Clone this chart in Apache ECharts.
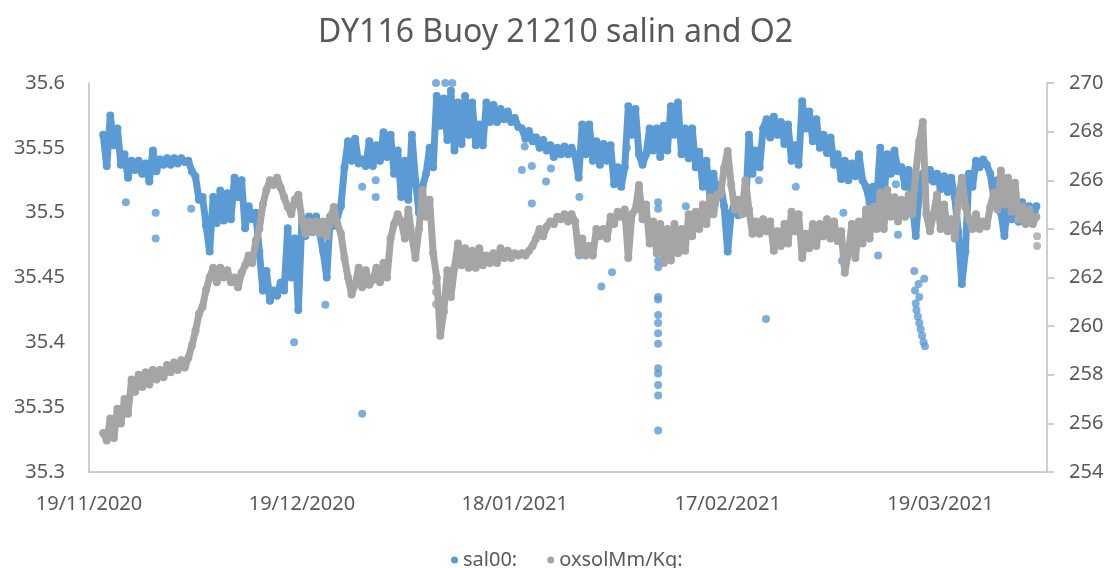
<!DOCTYPE html>
<html>
<head>
<meta charset="utf-8">
<script src="https://cdn.jsdelivr.net/npm/echarts@6/dist/echarts.min.js"></script>
<style>
html,body{margin:0;padding:0;background:#fff;}
#chart{width:1111px;height:568px;}
</style>
</head>
<body>
<div id="chart"></div>
<script>
// ---- data ----
const titleText = 'DY116 Buoy 21210 salin and O2';
const salName = 'sal00:';
const oxName = 'oxsolMm/Kg:';
const axisStartDate = [2020, 10, 19];      // 19/11/2020 = day 0
const firstSampleDay = 2;                  // first sample, days after 19/11/2020
const sampleStepDays = 0.5;                // sampling step of the arrays below
const xTickDays = [0, 30, 60, 90, 120];

const salValues = [
35.560,35.536,35.575,35.552,35.565,35.537,35.545,35.527,35.540,35.533,
35.540,35.530,35.538,35.524,35.548,35.532,35.541,35.537,35.542,35.537,
35.542,35.538,35.542,35.539,35.540,35.532,35.528,35.510,35.512,35.490,
35.470,35.512,35.492,35.517,35.494,35.515,35.495,35.527,35.512,35.525,
35.488,35.505,35.495,35.500,35.470,35.440,35.455,35.432,35.440,35.436,
35.446,35.440,35.488,35.450,35.480,35.425,35.495,35.482,35.497,35.485,
35.497,35.484,35.470,35.450,35.497,35.490,35.497,35.505,35.535,35.555,
35.540,35.557,35.538,35.541,35.536,35.555,35.536,35.552,35.540,35.562,
35.543,35.560,35.530,35.548,35.512,35.540,35.510,35.560,35.525,35.500,
35.520,35.530,35.550,35.535,35.590,35.567,35.588,35.556,35.594,35.548,
35.585,35.553,35.590,35.560,35.585,35.552,35.568,35.552,35.585,35.570,
35.583,35.570,35.580,35.572,35.578,35.570,35.573,35.566,35.565,35.557,
35.563,35.555,35.558,35.550,35.556,35.548,35.552,35.543,35.550,35.545,
35.551,35.545,35.550,35.544,35.527,35.568,35.545,35.568,35.540,35.555,
35.537,35.553,35.540,35.552,35.522,35.535,35.520,35.535,35.582,35.560,
35.580,35.545,35.537,35.545,35.565,35.548,35.565,35.543,35.567,35.548,
35.582,35.560,35.585,35.545,35.565,35.542,35.565,35.535,35.547,35.520,
35.540,35.513,35.530,35.512,35.522,35.505,35.470,35.500,35.508,35.498,
35.510,35.500,35.560,35.530,35.548,35.535,35.565,35.572,35.558,35.574,
35.560,35.570,35.553,35.568,35.540,35.552,35.537,35.586,35.565,35.578,
35.555,35.572,35.550,35.560,35.546,35.558,35.537,35.545,35.526,35.540,
35.525,35.538,35.528,35.545,35.525,35.520,35.508,35.520,35.510,35.550,
35.510,35.545,35.530,35.548,35.532,35.535,35.520,35.533,35.508,35.482,
35.515,35.530,35.525,35.533,35.524,35.530,35.518,35.528,35.516,35.527,
35.512,35.485,35.445,35.470,35.530,35.520,35.540,35.535,35.541,35.537,
35.530,35.512,35.525,35.500,35.482,35.510,35.495,35.515,35.493,35.508,
35.497,35.505,35.494,35.505
];

const oxValues = [
255.6,255.3,256.2,255.4,256.6,256.0,257.0,256.4,257.8,257.3,
258.0,257.5,258.1,257.6,258.2,257.8,258.2,257.9,258.4,258.1,
258.5,258.2,258.6,258.3,258.7,259.2,259.8,260.5,260.8,261.5,
262.0,262.4,261.8,262.4,262.0,262.3,261.8,262.0,261.6,262.2,
262.5,262.9,262.6,263.5,264.0,265.0,265.6,266.0,265.8,266.1,
265.7,265.3,264.9,264.6,265.2,265.4,264.4,263.8,264.3,263.9,
264.3,263.8,264.3,263.7,264.4,264.9,264.2,263.8,262.8,262.0,
261.3,261.7,262.4,261.6,262.3,261.7,261.9,262.4,261.8,262.6,
262.0,263.6,264.2,264.6,264.3,263.6,264.8,263.7,262.8,264.0,
265.6,264.5,265.2,263.0,262.0,259.6,260.6,262.3,261.2,262.4,
263.4,262.5,263.2,262.4,263.1,262.4,263.2,262.5,262.9,262.6,
263.0,262.6,263.2,262.8,263.1,262.8,263.0,262.9,263.0,262.9,
263.1,263.3,263.6,264.0,263.7,264.1,264.3,264.2,264.5,264.4,
264.6,264.3,264.6,264.3,263.0,263.6,262.9,263.3,262.9,264.0,
263.7,264.0,263.6,264.5,264.2,264.7,264.5,264.8,262.8,264.6,
264.8,265.8,264.4,265.0,263.4,264.3,263.0,264.2,262.6,264.0,
262.7,264.2,263.0,264.0,263.1,264.6,263.7,264.7,264.0,265.0,
264.2,265.3,264.6,265.4,265.4,266.5,267.2,265.8,264.8,265.2,
264.6,266.0,264.8,263.8,264.3,263.8,264.4,263.9,264.3,263.1,
263.9,263.3,264.2,263.4,264.7,263.9,264.6,262.8,263.8,263.2,
264.2,263.3,264.2,263.7,264.4,263.6,264.3,263.5,263.9,262.2,
263.0,264.2,262.8,264.3,263.4,264.8,263.6,264.9,264.0,265.5,
264.0,265.6,264.5,265.3,264.3,265.2,264.5,265.4,264.6,266.3,
267.6,268.4,264.6,263.9,264.6,265.4,264.0,265.0,263.9,264.4,
263.6,265.2,266.1,264.9,264.4,264.0,264.6,264.0,264.3,264.1,
264.9,265.5,264.8,266.4,265.0,266.1,264.7,265.9,264.4,264.9,
264.2,264.8,264.2,264.5
];

// isolated points: [days after 19/11/2020, value]
const salOutliers = [
[5.2,35.508],[9.4,35.500],[9.4,35.480],[14.4,35.503],[28.9,35.400],[33.3,35.429],
[38.5,35.520],[40.4,35.525],[40.4,35.512],[38.5,35.345],[48.9,35.600],[50.2,35.600],
[51.2,35.600],[61.4,35.551],[61.0,35.533],[62.4,35.536],[62.4,35.507],[64.4,35.524],
[65.1,35.534],[69.1,35.512],[69.1,35.467],[72.2,35.443],[73.7,35.454],[75.8,35.550],
[80.2,35.508],[80.2,35.503],[80.2,35.463],[80.2,35.458],[80.2,35.435],[80.2,35.433],
[80.2,35.421],[80.2,35.415],[80.2,35.407],[80.2,35.399],[80.2,35.380],[80.2,35.376],
[80.2,35.367],[80.2,35.359],[80.2,35.332],[84.1,35.505],[94.4,35.525],[95.4,35.418],
[99.6,35.520],[106.1,35.463],[106.3,35.500],[111.2,35.467],[114.0,35.483],[113.7,35.522],
[116.3,35.455],[116.4,35.440],[116.5,35.430],[116.6,35.425],[116.8,35.420],[117.0,35.415],
[117.2,35.410],[117.4,35.405],[117.6,35.400],[117.8,35.397],[117.7,35.449],[117.0,35.435],
[116.9,35.445]
];
const oxOutliers = [
[48.9,261.8],[48.9,261.4],[48.9,260.9],[133.6,263.7],[133.6,263.3]
];

// ---- build ----
function withDays(values) {
  return values.map((v, i) => [firstSampleDay + i * sampleStepDays, v]);
}
const base = Date.UTC(axisStartDate[0], axisStartDate[1], axisStartDate[2]);
function fmtDay(d) {
  const t = new Date(base + Math.round(d) * 86400000);
  const dd = String(t.getUTCDate()).padStart(2, '0');
  const mm = String(t.getUTCMonth() + 1).padStart(2, '0');
  return dd + '/' + mm + '/' + t.getUTCFullYear();
}

const BLUE = '#5B9BD5', GRAY = '#A5A5A5', TXT = '#595959', AX = '#BFBFBF';
const FONT = '"Noto Sans", "Open Sans", sans-serif';

const chart = echarts.init(document.getElementById('chart'), null, {renderer: 'canvas'});
chart.setOption({
  animation: false,
  backgroundColor: '#fff',
  textStyle: {fontFamily: FONT},
  title: {
    text: titleText, left: 'center', top: 12,
    padding: [5, 5, 5, 23],
    textStyle: {fontSize: 32, fontWeight: 'normal', color: TXT, fontFamily: FONT}
  },
  legend: {
    data: [salName, oxName], left: 446, top: 545,
    icon: 'circle', itemWidth: 7, itemHeight: 7, itemGap: 30,
    textStyle: {fontSize: 20, color: TXT, fontFamily: FONT}
  },
  grid: {left: 89, right: 64, top: 83, bottom: 96, containLabel: false},
  xAxis: {
    type: 'value', min: 0, max: 135, interval: 30,
    axisLine: {show: true, lineStyle: {color: AX, width: 1.5}},
    axisTick: {show: false}, splitLine: {show: false},
    axisLabel: {
      margin: 22, fontSize: 20, color: TXT, fontFamily: FONT,
      formatter: v => xTickDays.indexOf(v) >= 0 ? fmtDay(v) : ''
    }
  },
  yAxis: [{
    type: 'value', min: 35.3, max: 35.6, interval: 0.05, position: 'left',
    axisLine: {show: true, lineStyle: {color: AX, width: 1.5}},
    axisTick: {show: false}, splitLine: {show: false},
    axisLabel: {margin: 24, fontSize: 20, color: TXT, fontFamily: FONT,
      formatter: v => String(+v.toFixed(2))}
  }, {
    type: 'value', min: 254, max: 270, interval: 2, position: 'right',
    axisLine: {show: true, lineStyle: {color: AX, width: 1.5}},
    axisTick: {show: true, inside: false, length: 7, lineStyle: {color: AX, width: 1.5}},
    splitLine: {show: false},
    axisLabel: {margin: 22, fontSize: 20, color: TXT, fontFamily: FONT}
  }],
  series: [{
    name: salName, type: 'line', yAxisIndex: 0, data: withDays(salValues),
    symbol: 'circle', symbolSize: 8, showSymbol: true,
    lineStyle: {color: BLUE, width: 7, cap: 'round', join: 'round'},
    itemStyle: {color: BLUE}, z: 2
  }, {
    name: salName, type: 'scatter', yAxisIndex: 0, data: salOutliers,
    symbol: 'circle', symbolSize: 8, itemStyle: {color: BLUE}, z: 2
  }, {
    name: oxName, type: 'line', yAxisIndex: 1, data: withDays(oxValues),
    symbol: 'circle', symbolSize: 8, showSymbol: true,
    lineStyle: {color: GRAY, width: 7, cap: 'round', join: 'round'},
    itemStyle: {color: GRAY}, z: 3
  }, {
    name: oxName, type: 'scatter', yAxisIndex: 1, data: oxOutliers,
    symbol: 'circle', symbolSize: 8, itemStyle: {color: GRAY}, z: 3
  }]
});
</script>
</body>
</html>
